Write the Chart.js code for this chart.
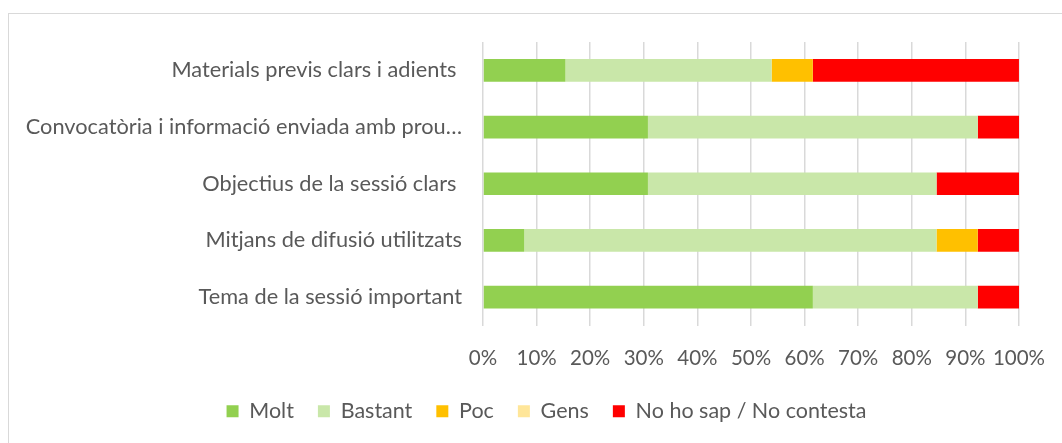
<!DOCTYPE html>
<html>
<head>
<meta charset="utf-8">
<script src="https://cdn.jsdelivr.net/npm/chart.js@4"></script>
<style>
  html, body { margin: 0; padding: 0; background: #fff; }
  #wrap { position: relative; width: 1062px; height: 443px; overflow: hidden; }
  #frame { position: absolute; left: 8px; top: 13px; width: 1100px; height: 500px; border: 1px solid #d9d9d9; box-sizing: border-box; }
  #chart { position: absolute; left: 0; top: 0; }
</style>
</head>
<body>
<div id="wrap">
  <div id="frame"></div>
  <canvas id="chart" width="1062" height="443"></canvas>
</div>
<script>
// categories (top to bottom) and shares in %
const categories = [
  'Materials previs clars i adients ',
  'Convocatòria i informació enviada amb prou…',
  'Objectius de la sessió clars ',
  'Mitjans de difusió utilitzats',
  'Tema de la sessió important'
];
const molt    = [15.38, 30.77, 30.77, 7.69, 61.54];
const bastant = [38.46, 61.54, 53.85, 76.92, 30.77];
const poc     = [7.69, 0, 0, 7.69, 0];
const gens    = [0, 0, 0, 0, 0];
const noSap   = [38.46, 7.69, 15.38, 7.69, 7.69];
const xTicks  = [0, 10, 20, 30, 40, 50, 60, 70, 80, 90, 100];

const FONT = 'Lato, "Open Sans", sans-serif';
const TXT = '#595959';

function ds(label, data, color) {
  return { label, data, backgroundColor: color, borderWidth: 0, barPercentage: 0.4, categoryPercentage: 1 };
}

// nudge the legend to the right so it sits under the plot like the original
const legendShift = {
  id: 'legendShift',
  afterLayout(chart) {
    const lg = chart.legend;
    if (!lg) return;
    lg.left += 37;
    lg.right += 37;
  },
};

new Chart(document.getElementById('chart').getContext('2d'), {
  type: 'bar',
  data: {
    labels: categories,
    datasets: [
      ds('Molt', molt, '#92d050'),
      ds('Bastant', bastant, '#c9e7a9'),
      ds('Poc', poc, '#ffc000'),
      ds('Gens', gens, '#ffe699'),
      ds('No ho sap / No contesta', noSap, '#ff0000'),
    ],
  },
  plugins: [legendShift],
  options: {
    indexAxis: 'y',
    responsive: false,
    animation: false,
    layout: { padding: { top: 42, right: 43, bottom: 11, left: 0 } },
    plugins: {
      tooltip: { enabled: false },
      legend: {
        position: 'bottom',
        labels: { color: TXT, font: { family: FONT, size: 21.5 }, boxWidth: 12, boxHeight: 12, padding: 24 },
      },
    },
    scales: {
      x: {
        stacked: true, min: 0, max: 100,
        afterBuildTicks: s => { s.ticks = xTicks.map(v => ({ value: v })); },
        afterFit: s => { s.height = 51; s.paddingLeft = 0; s.paddingRight = 0; },
        ticks: { color: TXT, font: { family: FONT, size: 20.5 }, padding: 21, maxRotation: 0, autoSkip: false, callback: v => v + '%' },
        grid: { color: '#d9d9d9', lineWidth: 1.5, drawTicks: false },
        border: { display: false },
      },
      y: {
        stacked: true,
        afterFit: s => { s.width = 483; },
        ticks: { color: TXT, font: { family: FONT, size: 21.75 }, padding: 21 },
        grid: { display: false, drawTicks: false },
        border: { display: false },
      },
    },
  },
});
</script>
</body>
</html>
